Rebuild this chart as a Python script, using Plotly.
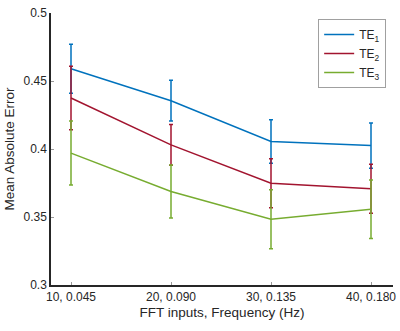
import plotly.graph_objects as go

categories = ["10, 0.045", "20, 0.090", "30, 0.135", "40, 0.180"]
te1 = [0.459, 0.4355, 0.4055, 0.4025]
te1_err = [0.018, 0.015, 0.016, 0.0167]
te2 = [0.4375, 0.403, 0.3748, 0.3707]
te2_err = [0.0234, 0.015, 0.018, 0.018]
te3 = [0.397, 0.3688, 0.3484, 0.3557]
te3_err = [0.0235, 0.0195, 0.0217, 0.0215]
names = ["TE<sub>1</sub>", "TE<sub>2</sub>", "TE<sub>3</sub>"]
colors = ["#0072BD", "#A2142F", "#77AC30"]

fig = go.Figure()
xs = list(range(len(categories)))
for vals, errs, name, col in zip([te1, te2, te3], [te1_err, te2_err, te3_err], names, colors):
    fig.add_trace(go.Scatter(
        x=xs, y=vals, name=name, mode="lines",
        line=dict(color=col, width=1.5),
        error_y=dict(type="data", array=errs, visible=True, color=col, thickness=1.5, width=2),
    ))

font = "Liberation Sans, Arial, Helvetica, sans-serif"
fig.update_layout(
    width=400, height=331,
    margin=dict(l=51, r=7, t=13, b=46, autoexpand=False),
    plot_bgcolor="white", paper_bgcolor="white",
    font=dict(family=font, size=12, color="#262626"),
    showlegend=True,
    legend=dict(x=0.98, y=0.978, xanchor="right", yanchor="top",
                bordercolor="#a0a0a0", borderwidth=1, bgcolor="white",
                font=dict(size=12), itemwidth=30, tracegroupgap=0),
    xaxis=dict(
        range=[-0.2, 3.22], tickmode="array", tickvals=xs, ticktext=categories,
        showline=True, linecolor="#262626", linewidth=1.5, mirror=False,
        ticks="inside", ticklen=3, tickcolor="#999999", showgrid=False, zeroline=False,
        title=dict(text="FFT inputs, Frequency (Hz)", font=dict(size=13.5), standoff=4),
        tickfont=dict(size=12), automargin=False,
    ),
    yaxis=dict(
        range=[0.3, 0.5], tickvals=[0.3, 0.35, 0.4, 0.45, 0.5],
        ticktext=["0.3", "0.35", "0.4", "0.45", "0.5"],
        showline=True, linecolor="#262626", linewidth=1.5, mirror=False,
        ticks="inside", ticklen=3, tickcolor="#999999", showgrid=False, zeroline=False,
        title=dict(text="Mean Absolute Error", font=dict(size=13.5), standoff=6),
        tickfont=dict(size=12), automargin=False,
    ),
)
fig.write_html("out.html", config={"displayModeBar": False},
               post_script="document.body.style.margin='0';")
